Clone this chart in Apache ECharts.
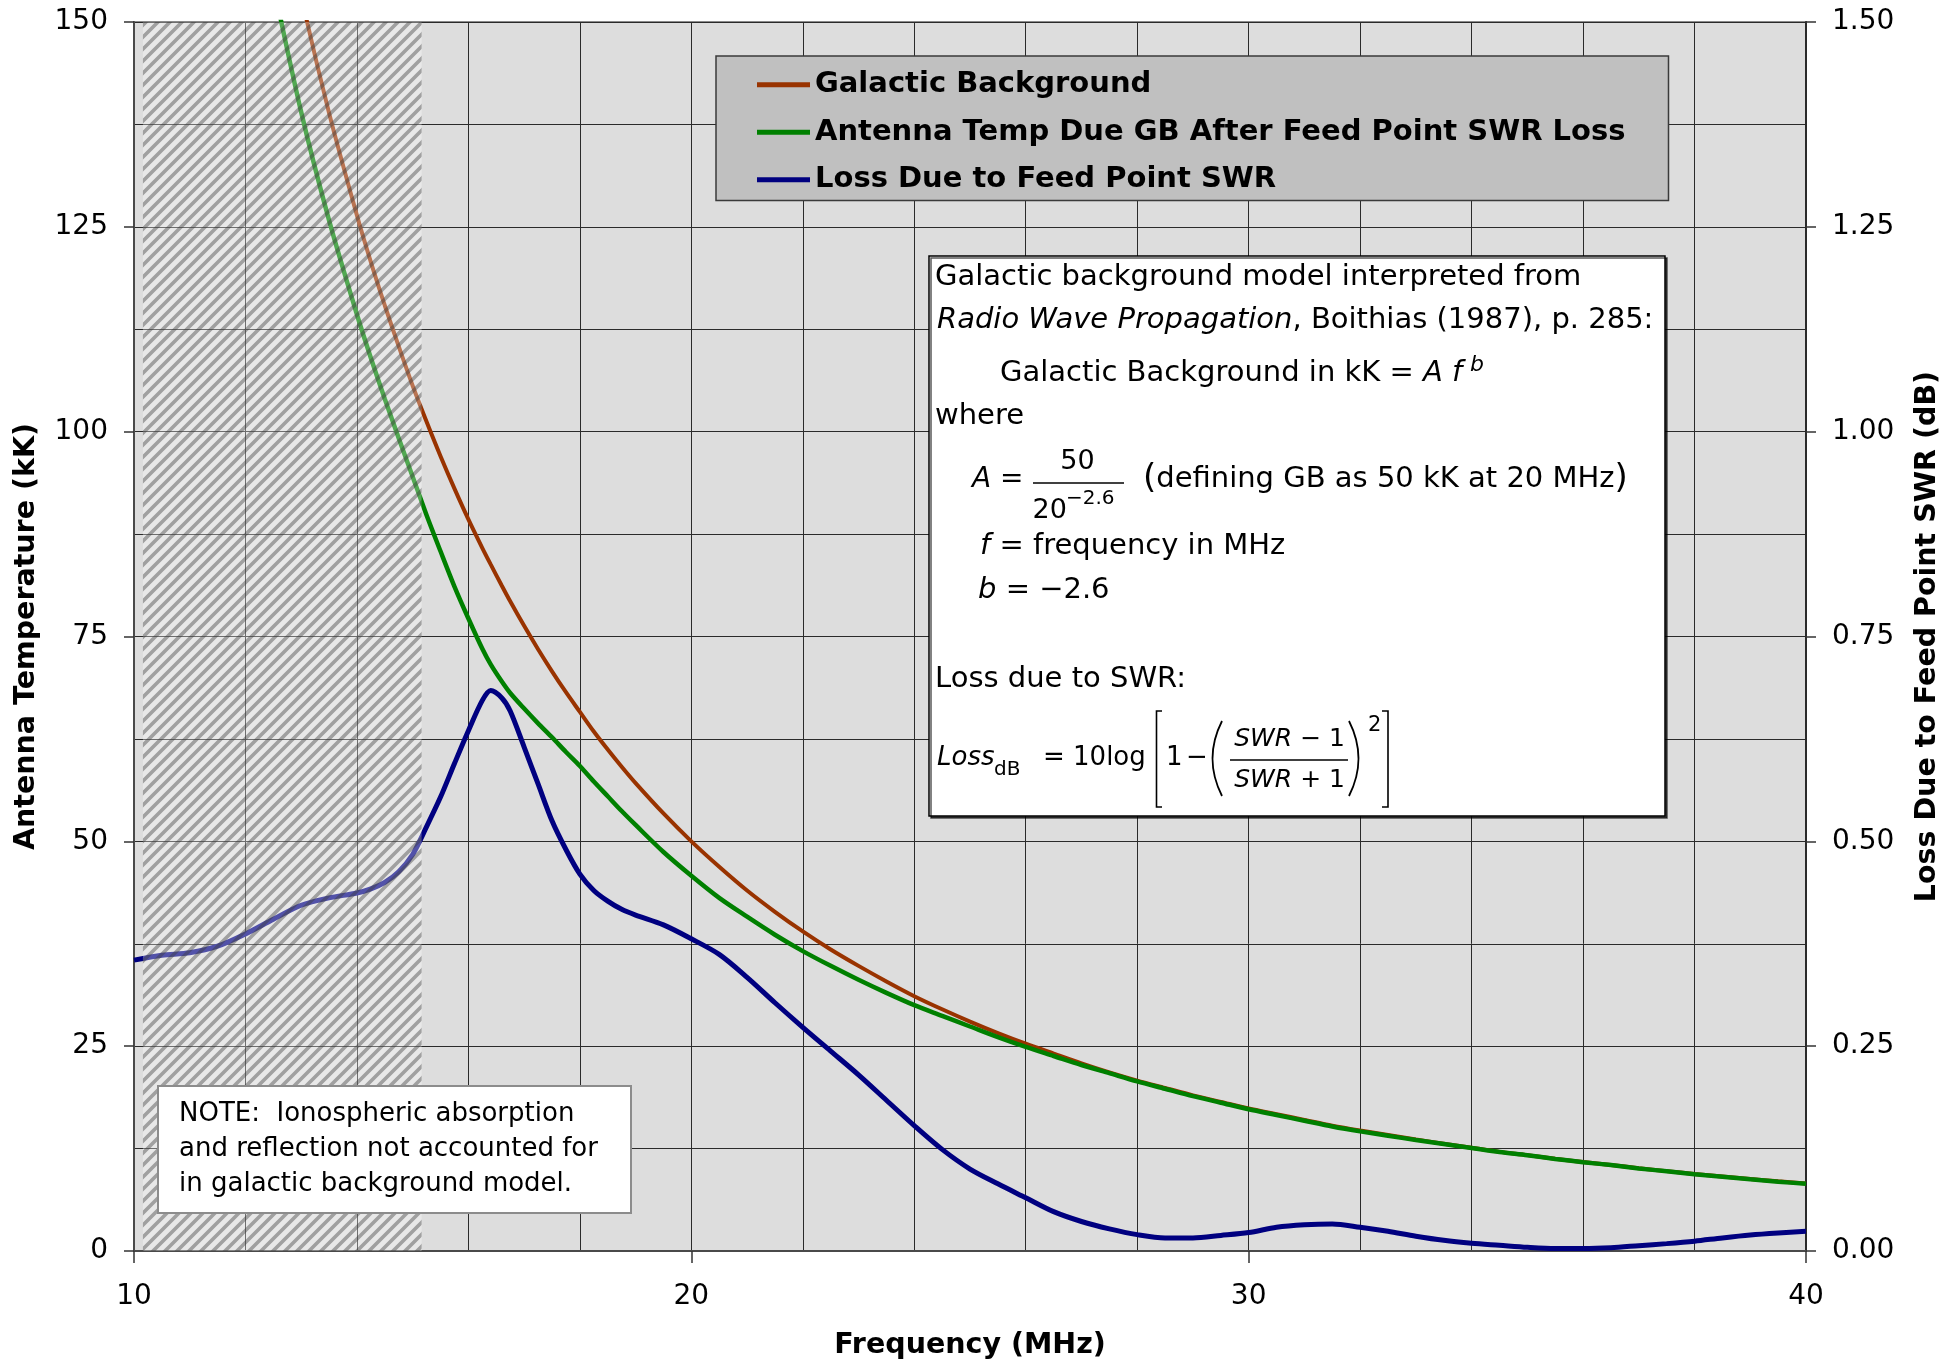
<!DOCTYPE html>
<html><head><meta charset="utf-8">
<script src="https://cdn.jsdelivr.net/npm/echarts@6/dist/echarts.min.js"></script>
<style>html,body{margin:0;padding:0;background:#fff;}#c{width:1947px;height:1362px;}</style>
</head><body><div id="c"></div>
<script>
// ---- data ----
const freqs = [10, 10.5, 11, 11.5, 12, 12.5, 13, 13.5, 14, 14.25, 14.5, 14.75, 15, 15.25, 15.5, 15.75, 16, 16.25, 16.4, 16.6, 16.75, 17, 17.25, 17.5, 17.75, 18, 18.25, 18.5, 18.75, 19,
  19.5, 20, 20.5, 21, 21.5, 22, 22.5, 23, 23.5, 24, 24.5, 25, 25.5, 26, 26.5, 27, 27.5, 28, 28.5, 29, 29.5, 30,
  30.5, 31, 31.5, 32, 32.5, 33, 33.5, 34, 34.5, 35, 35.5, 36, 36.5, 37, 37.5, 38, 38.5, 39, 39.5, 40];
const galacticBg = [null, null, null, null, null, 169.7, 153.2, 138.9, 126.4, 120.7, 115.4, 110.4, 105.6, 101.2, 97.0, 93.05, 89.3, 85.8, 83.8, 81.2, 79.3, 76.3, 73.45, 70.75, 68.2, 65.8, 63.4, 61.2, 59.1, 57.1,
  53.4, 50.0, 46.9, 44.0, 41.4, 39.0, 36.8, 34.8, 32.9, 31.1, 29.5, 28.0, 26.6, 25.3, 24.1, 22.9, 21.8, 20.8, 19.9, 19.0, 18.2, 17.4,
  16.7, 16.0, 15.3, 14.7, 14.15, 13.6, 13.1, 12.6, 12.1, 11.7, 11.25, 10.85, 10.5, 10.1, 9.75, 9.4, 9.1, 8.8, 8.5, 8.25];
const antennaTemp = [null, null, null, null, null, 154.6, 139.0, 125.8, 114.3, 109.0, 104.0, 99.2, 94.5, 89.8, 85.4, 81.1, 77.2, 73.5, 71.6, 69.5, 68.1, 66.2, 64.4, 62.7, 60.9, 59.2, 57.3, 55.5, 53.7, 52.0,
  48.7, 45.8, 43.1, 40.8, 38.6, 36.6, 34.8, 33.1, 31.5, 30.0, 28.7, 27.4, 26.1, 24.9, 23.8, 22.7, 21.7, 20.7, 19.8, 18.9, 18.1, 17.3,
  16.6, 15.9, 15.2, 14.6, 14.07, 13.55, 13.06, 12.57, 12.08, 11.69, 11.24, 10.84, 10.49, 10.08, 9.73, 9.37, 9.07, 8.76, 8.46, 8.2];
const lossDb = [0.355, 0.361, 0.364, 0.372, 0.387, 0.405, 0.422, 0.431, 0.437, 0.442, 0.450, 0.463, 0.484, 0.518, 0.554, 0.595, 0.635, 0.672, 0.684, 0.675, 0.659, 0.615, 0.570, 0.525, 0.490, 0.460, 0.440, 0.427, 0.417, 0.410,
  0.398, 0.381, 0.362, 0.334, 0.303, 0.273, 0.244, 0.215, 0.184, 0.153, 0.124, 0.100, 0.082, 0.065, 0.048, 0.036, 0.027, 0.020, 0.016, 0.016, 0.019, 0.0225,
  0.029, 0.032, 0.033, 0.029, 0.024, 0.018, 0.013, 0.0095, 0.007, 0.0045, 0.003, 0.003, 0.004, 0.0065, 0.009, 0.012, 0.016, 0.0195, 0.022, 0.024];
const hatchRange = [10.16, 15.16];
const seriesNames = ['Galactic Background', 'Antenna Temp Due GB After Feed Point SWR Loss', 'Loss Due to Feed Point SWR'];
const xRange = [10, 40], leftRange = [0, 150], rightRange = [0, 1.5];

// ---- rendering ----
const FF = "'DejaVu Sans', Verdana, sans-serif";
const zip = (xs, ys) => xs.map((x, i) => [x, ys[i]]);

const pc = document.createElement('canvas');
pc.width = 12; pc.height = 12;
const g = pc.getContext('2d');
g.fillStyle = 'rgba(255,255,255,0.32)'; g.fillRect(0, 0, 12, 12);
g.strokeStyle = 'rgba(60,60,60,0.42)'; g.lineWidth = 3.6; g.lineCap = 'square';
g.beginPath();
g.moveTo(-3, 15); g.lineTo(15, -3);
g.moveTo(-3, 3); g.lineTo(3, -3);
g.moveTo(9, 15); g.lineTo(15, 9);
g.stroke();

function T(x, y, text, o) {
  const size = (o && o.fontSize) || 29;
  const st = Object.assign({ text, fill: '#000', fontFamily: FF, fontSize: size, align: 'left', verticalAlign: 'middle',
    rich: {
      i: { fontFamily: FF, fontSize: size, fontStyle: 'italic', fill: '#000' },
      p: { fontFamily: FF, fontSize: 34, fill: '#000' }
    } }, o || {});
  return { type: 'text', x, y, z: 101, silent: true, style: st };
}
function L(x1, y1, x2, y2, w) { return { type: 'line', z: 101, silent: true, shape: { x1, y1, x2, y2 }, style: { stroke: '#000', lineWidth: w || 1.5 } }; }
function P(points) { return { type: 'polyline', z: 101, silent: true, shape: { points }, style: { stroke: '#000', lineWidth: 1.6, fill: null } }; }
function B(x1, y1, cx, cy, x2, y2) { return { type: 'bezierCurve', z: 101, silent: true, shape: { x1, y1, cpx1: cx, cpy1: cy, x2, y2 }, style: { stroke: '#000', lineWidth: 1.8, fill: null } }; }

const graphics = [
  { type: 'rect', z: 100, silent: true, shape: { x: 929, y: 256, width: 736, height: 560 },
    style: { fill: '#fff', stroke: '#000', lineWidth: 1.5, shadowColor: 'rgba(0,0,0,0.65)', shadowOffsetX: 2, shadowOffsetY: 2, shadowBlur: 0 } },
  T(935, 277.4, 'Galactic background model interpreted from'),
  T(937, 320.4, '{i|Radio Wave Propagation}, Boithias (1987), p. 285:'),
  T(1000, 373, 'Galactic Background in kK = {i|A f}'),
  T(1470, 365, 'b', { fontSize: 22, fontStyle: 'italic' }),
  T(935, 416.4, 'where'),
  T(972, 479.4, '{i|A} =', { fontSize: 28 }),
  T(1077.5, 462, '50', { fontSize: 27, align: 'center' }),
  L(1033, 483, 1124, 483, 1.5),
  T(1032.5, 510.7, '20', { fontSize: 27 }),
  T(1066, 498.7, '\u22122.6', { fontSize: 20 }),
  T(1143, 479.4, '{p|(}defining GB as 50 kK at 20 MHz{p|)}'),
  T(980, 546, '{i|f} = frequency in MHz'),
  T(978, 590.4, '{i|b} = \u22122.6'),
  T(935, 679.4, 'Loss due to SWR:'),
  T(937, 758, 'Loss', { fontSize: 26, fontStyle: 'italic' }),
  T(994, 769.4, 'dB', { fontSize: 20 }),
  T(1043, 758, '= 10log', { fontSize: 26 }),
  P([[1162, 711], [1156.5, 711], [1156.5, 807], [1162, 807]]),
  T(1166, 758, '1', { fontSize: 26 }),
  T(1186, 758, '\u2212', { fontSize: 26 }),
  B(1222, 721, 1203, 758.5, 1222, 796),
  T(1289.6, 739.7, '{i|SWR} \u2212 1', { fontSize: 25, align: 'center' }),
  L(1230, 760, 1348, 760, 1.5),
  T(1289.6, 780.7, '{i|SWR} + 1', { fontSize: 25, align: 'center' }),
  B(1349, 721, 1368, 758.5, 1349, 796),
  T(1368, 725.5, '2', { fontSize: 21 }),
  P([[1382, 711], [1388, 711], [1388, 807], [1382, 807]]),
  { type: 'rect', z: 100, silent: true, shape: { x: 158, y: 1086, width: 473, height: 127 },
    style: { fill: '#fff', stroke: '#8c8c8c', lineWidth: 2 } },
  T(179, 1114.4, 'NOTE:  Ionospheric absorption', { fontSize: 26 }),
  T(179, 1149.4, 'and reflection not accounted for', { fontSize: 26 }),
  T(179, 1184.4, 'in galactic background model.', { fontSize: 26 })
];

const gridLine = { show: true, lineStyle: { color: '#2a2a2a', width: 1 } };
const axisLabel = { color: '#000', fontFamily: FF, fontSize: 28 };
const nameStyle = { color: '#000', fontFamily: FF, fontSize: 28.5, fontWeight: 'bold' };

const chart = echarts.init(document.getElementById('c'), null, { renderer: 'canvas' });
chart.setOption({
  animation: false,
  backgroundColor: '#ffffff',
  textStyle: { fontFamily: FF },
  grid: { left: 134, right: 141, top: 22, bottom: 111, show: true, backgroundColor: '#dddddd', borderColor: '#8a8a8a', borderWidth: 2,
    containLabel: false, outerBoundsMode: 'none' },
  legend: {
    data: seriesNames.map(n => ({ name: n, icon: 'rect' })),
    orient: 'vertical', left: 716, top: 56, itemWidth: 53, itemHeight: 5, itemGap: 18.5,
    padding: [14.25, 43, 6.25, 41],
    backgroundColor: '#c0c0c0', borderColor: '#3a3a3a', borderWidth: 1.5,
    textStyle: { color: '#000', fontFamily: FF, fontSize: 29, fontWeight: 'bold' },
    selectedMode: false
  },
  xAxis: {
    type: 'value', min: xRange[0], max: xRange[1], interval: 10,
    name: 'Frequency (MHz)', nameLocation: 'middle', nameGap: 80, nameTextStyle: nameStyle,
    axisLine: { show: true, onZero: false, lineStyle: { color: '#4a4a4a', width: 2 } },
    axisTick: { show: true, inside: false, length: 12, lineStyle: { color: '#333', width: 1.5 } },
    axisLabel: Object.assign({ margin: 32 }, axisLabel),
    splitLine: gridLine,
    minorTick: { show: false, splitNumber: 5 },
    minorSplitLine: gridLine
  },
  yAxis: [
    {
      type: 'value', min: leftRange[0], max: leftRange[1], interval: 25, position: 'left',
      name: 'Antenna Temperature (kK)', nameLocation: 'middle', nameGap: 93, nameTextStyle: nameStyle,
      axisLine: { show: true, lineStyle: { color: '#4a4a4a', width: 2 } },
      axisTick: { show: true, inside: false, length: 10, lineStyle: { color: '#333', width: 1.5 } },
      axisLabel: Object.assign({ margin: 26 }, axisLabel),
      splitLine: gridLine,
      minorTick: { show: false, splitNumber: 2 },
      minorSplitLine: gridLine
    },
    {
      type: 'value', min: rightRange[0], max: rightRange[1], interval: 0.25, position: 'right',
      name: 'Loss Due to Feed Point SWR (dB)', nameLocation: 'middle', nameGap: 107, nameTextStyle: nameStyle,
      axisLine: { show: true, lineStyle: { color: '#2a2a2a', width: 2 } },
      axisTick: { show: true, inside: false, length: 10, lineStyle: { color: '#333', width: 1.5 } },
      axisLabel: Object.assign({ margin: 26, formatter: v => v.toFixed(2) }, axisLabel),
      splitLine: { show: false }
    }
  ],
  series: [
    { name: seriesNames[0], type: 'line', yAxisIndex: 0, data: zip(freqs, galacticBg), showSymbol: false, smooth: 0.3,
      lineStyle: { color: '#993300', width: 4 }, itemStyle: { color: '#993300' }, z: 3 },
    { name: seriesNames[1], type: 'line', yAxisIndex: 0, data: zip(freqs, antennaTemp), showSymbol: false, smooth: 0.3,
      lineStyle: { color: '#008000', width: 4.5 }, itemStyle: { color: '#008000' }, z: 4 },
    { name: seriesNames[2], type: 'line', yAxisIndex: 1, data: zip(freqs, lossDb), showSymbol: false, smooth: 0.3,
      lineStyle: { color: '#000080', width: 5 }, itemStyle: { color: '#000080' }, z: 3 },
    { type: 'custom', name: 'hatch', xAxisIndex: 0, yAxisIndex: 0, silent: true, z: 10,
      data: [[hatchRange[0], hatchRange[1]]], dimensions: ['x0', 'x1'], encode: { x: ['x0', 'x1'] },
      renderItem: (params, api) => {
        const a = api.coord([api.value(0), leftRange[1]]);
        const b = api.coord([api.value(1), leftRange[0]]);
        return { type: 'rect', shape: { x: a[0], y: a[1], width: b[0] - a[0], height: b[1] - a[1] },
          style: { fill: { image: pc, repeat: 'repeat' } } };
      } }
  ],
  graphic: { elements: graphics }
});
</script></body></html>
